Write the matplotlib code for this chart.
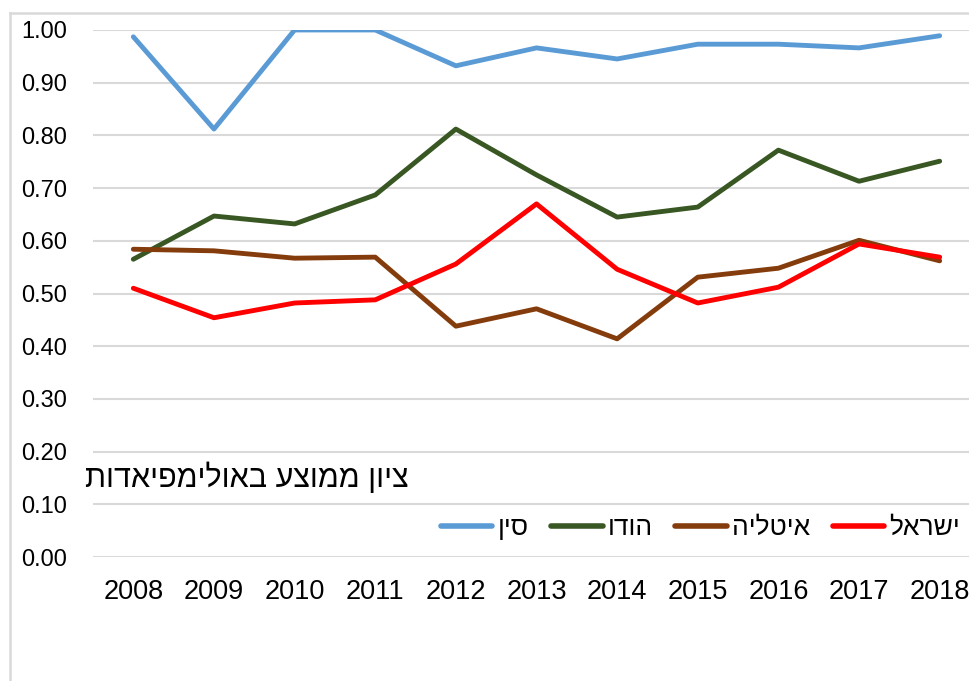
import matplotlib
matplotlib.use("Agg")
import matplotlib.pyplot as plt
from matplotlib.lines import Line2D

plt.rcParams['font.family'] = ['Liberation Sans', 'DejaVu Sans']

years = ['2008', '2009', '2010', '2011', '2012', '2013', '2014', '2015', '2016', '2017', '2018']

# ציון ממוצע לפי מדינה
china = [0.987, 0.812, 1.00, 1.00, 0.932, 0.966, 0.945, 0.973, 0.973, 0.966, 0.989]
india = [0.565, 0.647, 0.632, 0.687, 0.812, 0.725, 0.645, 0.664, 0.772, 0.713, 0.751]
italy = [0.584, 0.581, 0.567, 0.569, 0.438, 0.471, 0.414, 0.531, 0.548, 0.601, 0.562]
israel = [0.510, 0.454, 0.482, 0.488, 0.556, 0.670, 0.546, 0.482, 0.512, 0.594, 0.569]

names = ['סין', 'הודו', 'איטליה', 'ישראל']
colors = ['#5B9BD5', '#385723', '#843C0C', '#FF0000']
yticks = [0.0, 0.1, 0.2, 0.3, 0.4, 0.5, 0.6, 0.7, 0.8, 0.9, 1.0]


def heb(s):
    # matplotlib no hace bidi, invertir a mano
    return s[::-1]


fig = plt.figure(figsize=(9.7, 6.81), dpi=100)
ax = fig.add_axes([0.0959, 0.182, 0.9144, 0.774])

x = range(len(years))
for serie, col in zip([china, india, italy, israel], colors):
    ax.plot(x, serie, color=col, lw=3.5, solid_capstyle='round', zorder=3)

ax.set_xlim(-0.5, len(years) - 0.5)
ax.set_ylim(0, 1.0)
ax.set_yticks(yticks)
ax.set_yticklabels([f"{v:.2f}" for v in yticks])
ax.set_xticks(list(x))
ax.set_xticklabels(years)
ax.tick_params(length=0, colors='#000000')
ax.tick_params(axis='x', pad=16, labelsize=19.5)
ax.tick_params(axis='y', pad=18.5, labelsize=17)
ax.grid(axis='y', color='#d9d9d9', lw=1.5, zorder=0)
for s in ax.spines.values():
    s.set_visible(False)

fig.text(0.0876, 0.298, heb('ציון ממוצע באולימפיאדות'), fontsize=22, va='center', ha='left')

handles = [Line2D([], [], color=c, lw=4, solid_capstyle='round') for c in colors]
fig.legend(handles, [heb(n) for n in names], ncol=4, loc='center right',
           bbox_to_anchor=(0.99, 0.225), frameon=False, fontsize=19,
           handlelength=1.95, columnspacing=0.85, handletextpad=0.2,
           borderpad=0, borderaxespad=0)

# marco del grafico
fig.add_artist(Line2D([0.0108, 0.0108], [0, 0.981], color='#d9d9d9', lw=1.8))
fig.add_artist(Line2D([0.0108, 1.0], [0.981, 0.981], color='#d9d9d9', lw=1.8))

fig.savefig('out.png', dpi=100)
